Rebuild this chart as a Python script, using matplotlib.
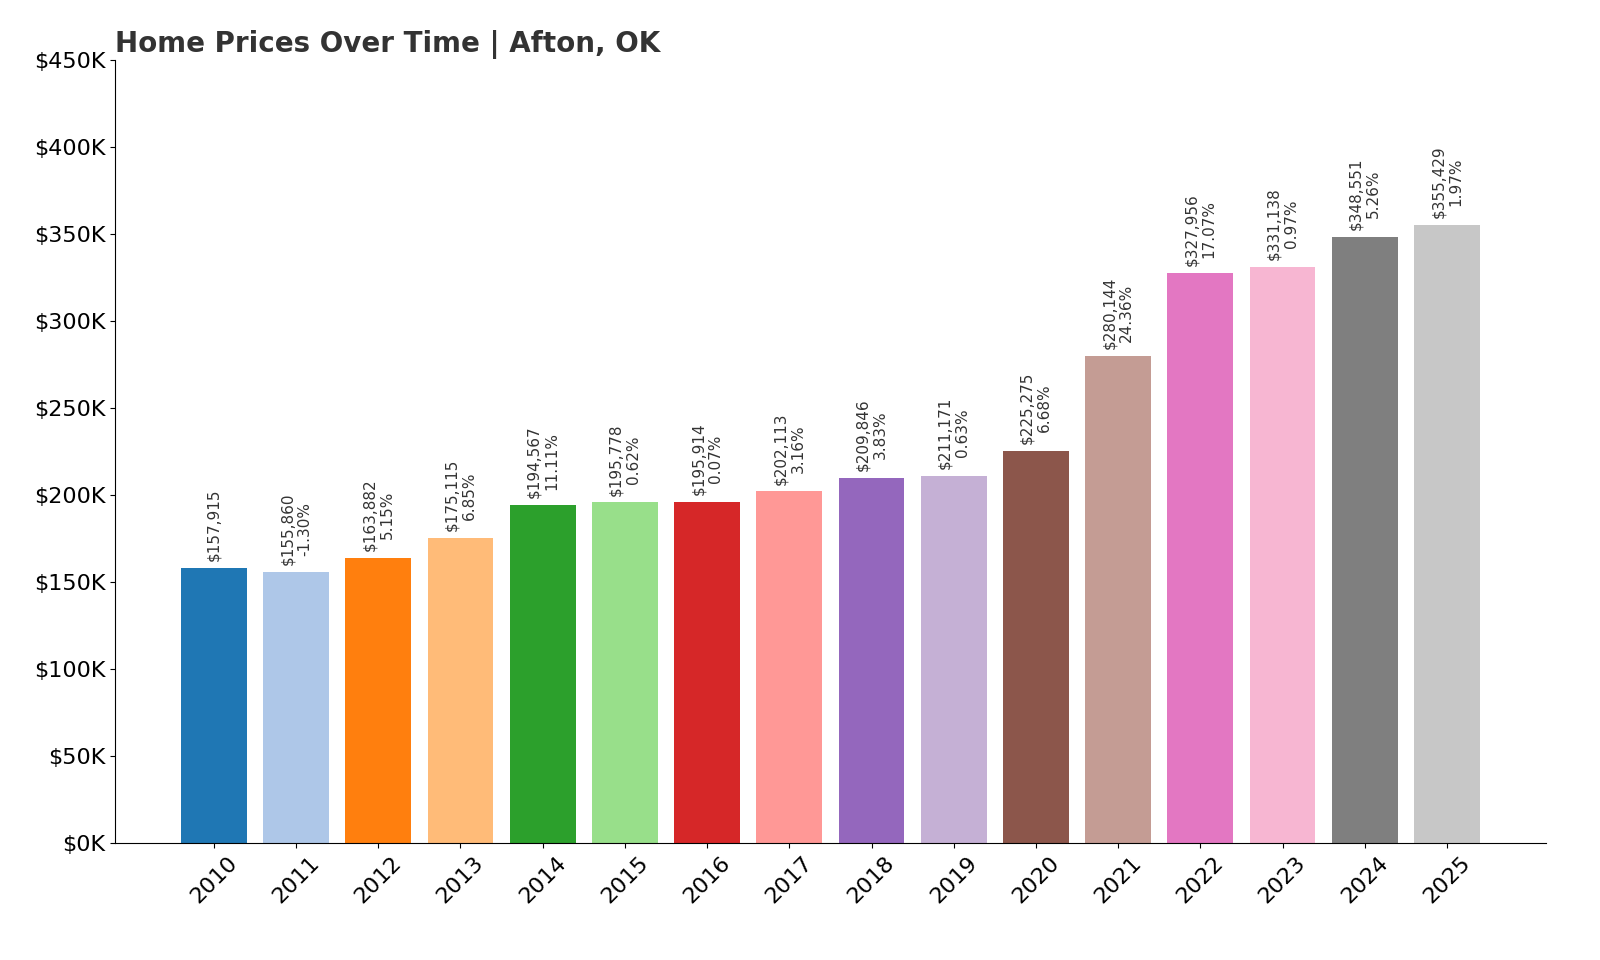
import matplotlib
matplotlib.use("Agg")
import matplotlib.pyplot as plt
from matplotlib.ticker import FuncFormatter

years = [str(y) for y in range(2010, 2026)]
prices = [157915, 155860, 163882, 175115, 194567, 195778, 195914, 202113,
          209846, 211171, 225275, 280144, 327956, 331138, 348551, 355429]
changes = [None, "-1.30%", "5.15%", "6.85%", "11.11%", "0.62%", "0.07%", "3.16%",
           "3.83%", "0.63%", "6.68%", "24.36%", "17.07%", "0.97%", "5.26%", "1.97%"]

colors = plt.cm.tab20.colors[:len(years)]

fig = plt.figure(figsize=(16, 9.6), dpi=100)
ax = fig.add_axes((0.072, 0.122, 0.894, 0.815))
x = range(len(years))
ax.bar(x, prices, color=colors, width=0.8)

for i, (p, c) in enumerate(zip(prices, changes)):
    label = f"${p:,}" if c is None else f"${p:,}\n{c}"
    ax.annotate(label, (i, p), xytext=(0, 5), textcoords="offset points",
                rotation=90, ha="center", va="bottom", fontsize=11, color="#333333")

ax.set_xticks(list(x))
ax.set_xticklabels(years, rotation=45, fontsize=16)
ax.set_ylim(0, 450000)
ax.set_yticks(range(0, 450001, 50000))
ax.yaxis.set_major_formatter(FuncFormatter(lambda v, _: f"${v/1000:.0f}K"))
ax.tick_params(axis="y", labelsize=16)
ax.set_xlim(-1.2, 16.2)
ax.spines["top"].set_visible(False)
ax.spines["right"].set_visible(False)
ax.set_title("Home Prices Over Time | Afton, OK", loc="left", fontsize=20,
             fontweight="bold", color="#333333")

fig.savefig("out.png")
